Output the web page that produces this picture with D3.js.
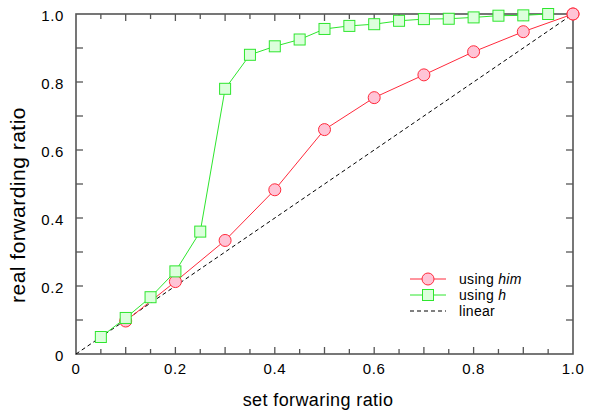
<!DOCTYPE html>
<html>
<head>
<meta charset="utf-8">
<script src="https://cdn.jsdelivr.net/npm/d3@7"></script>
<style>
  body { margin: 0; background: #fff; }
  text { font-family: "Liberation Sans", Arial, sans-serif; fill: #000; }
</style>
</head>
<body>
<div id="chart"></div>
<script>
// values
var him_x = [0.1, 0.2, 0.3, 0.4, 0.5, 0.6, 0.7, 0.8, 0.9, 1.0];
var him_y = [0.097, 0.213, 0.334, 0.483, 0.66, 0.754, 0.821, 0.889, 0.948, 1.0];
var h_x = [0.05, 0.1, 0.15, 0.2, 0.25, 0.3, 0.35, 0.4, 0.45, 0.5, 0.55, 0.6, 0.65, 0.7, 0.75, 0.8, 0.85, 0.9, 0.95];
var h_y = [0.05, 0.106, 0.167, 0.243, 0.36, 0.78, 0.88, 0.905, 0.925, 0.956, 0.965, 0.97, 0.98, 0.985, 0.986, 0.99, 0.995, 0.996, 1.0];
var linear_x = [0, 1];
var linear_y = [0, 1];
var x_labels = [0, 0.2, 0.4, 0.6, 0.8, 1.0];
var y_labels = [0, 0.2, 0.4, 0.6, 0.8, 1.0];

var width = 596, height = 412;
var margin = { top: 14, right: 23, bottom: 58, left: 76 };
var plot_w = width - margin.left - margin.right,
    plot_h = height - margin.top - margin.bottom;

var svg = d3.select("#chart").append("svg")
    .attr("width", width)
    .attr("height", height);

var g = svg.append("g").attr("transform", "translate(" + margin.left + "," + margin.top + ")");

var x = d3.scaleLinear().domain([0, 1]).range([0, plot_w]);
var y = d3.scaleLinear().domain([0, 1]).range([plot_h, 0]);

var frame_color = "#555";

// ticks pointing inward, on all four sides
var x_minor = d3.range(1, 20).map(function (i) { return i * 0.05; });
var y_minor = d3.range(1, 10).map(function (i) { return i * 0.1; });

function tickLen(v) {
    return Math.abs(Math.round(v * 10) - v * 10) < 1e-6 ? 7 : 5;
}

var ticks = g.append("g").attr("stroke", frame_color).attr("stroke-width", 1.3);
x_minor.forEach(function (v) {
    ticks.append("line").attr("x1", x(v)).attr("x2", x(v)).attr("y1", plot_h).attr("y2", plot_h - tickLen(v));
    ticks.append("line").attr("x1", x(v)).attr("x2", x(v)).attr("y1", 0).attr("y2", tickLen(v));
});
y_minor.forEach(function (v) {
    ticks.append("line").attr("x1", 0).attr("x2", 7).attr("y1", y(v)).attr("y2", y(v));
    ticks.append("line").attr("x1", plot_w).attr("x2", plot_w - 7).attr("y1", y(v)).attr("y2", y(v));
});

g.append("rect")
    .attr("x", 0).attr("y", 0)
    .attr("width", plot_w).attr("height", plot_h)
    .attr("fill", "none")
    .attr("stroke", frame_color)
    .attr("stroke-width", 1.6);

// tick labels
g.selectAll(".xlab").data(x_labels).enter().append("text")
    .attr("x", function (d) { return x(d); })
    .attr("y", plot_h + 20)
    .attr("text-anchor", "middle")
    .attr("font-size", 15)
    .attr("letter-spacing", 0.6)
    .text(function (d) { return d === 0 ? "0" : d.toFixed(1); });

g.selectAll(".ylab").data(y_labels).enter().append("text")
    .attr("x", -12)
    .attr("y", function (d) { return y(d) + 7; })
    .attr("text-anchor", "end")
    .attr("font-size", 15)
    .attr("letter-spacing", 0.6)
    .text(function (d) { return d === 0 ? "0" : d.toFixed(1); });

// axis titles
svg.append("text")
    .attr("x", 318)
    .attr("y", 406)
    .attr("text-anchor", "middle")
    .attr("font-size", 18)
    .attr("letter-spacing", 0.4)
    .text("set forwaring ratio");

svg.append("text")
    .attr("transform", "translate(25,205) rotate(-90)")
    .attr("text-anchor", "middle")
    .attr("font-size", 21)
    .attr("letter-spacing", 0.5)
    .text("real forwarding ratio");

var line = d3.line().x(function (d) { return x(d[0]); }).y(function (d) { return y(d[1]); });

var linear_data = d3.zip(linear_x, linear_y);
var him_data = d3.zip(him_x, him_y);
var h_data = d3.zip(h_x, h_y);

var red = "#ff2a3c", red_fill = "#ffc4d6";
var green = "#2ee62e", green_fill = "#dcffdc";

g.append("path").datum(linear_data)
    .attr("d", line)
    .attr("fill", "none")
    .attr("stroke", "#000")
    .attr("stroke-width", 1)
    .attr("stroke-dasharray", "4,3");

g.append("path").datum(him_data)
    .attr("d", line)
    .attr("fill", "none")
    .attr("stroke", red)
    .attr("stroke-width", 1);

g.selectAll(".him").data(him_data).enter().append("circle")
    .attr("cx", function (d) { return x(d[0]); })
    .attr("cy", function (d) { return y(d[1]); })
    .attr("r", 6)
    .attr("fill", red_fill)
    .attr("stroke", red)
    .attr("stroke-width", 1);

g.append("path").datum(h_data)
    .attr("d", line)
    .attr("fill", "none")
    .attr("stroke", green)
    .attr("stroke-width", 1);

g.selectAll(".h").data(h_data).enter().append("rect")
    .attr("x", function (d) { return x(d[0]) - 5.5; })
    .attr("y", function (d) { return y(d[1]) - 5.5; })
    .attr("width", 11)
    .attr("height", 11)
    .attr("fill", green_fill)
    .attr("stroke", green)
    .attr("stroke-width", 1);

// redraw top-right circle above squares
g.append("circle")
    .attr("cx", x(him_x[him_x.length - 1]))
    .attr("cy", y(him_y[him_y.length - 1]))
    .attr("r", 6)
    .attr("fill", red_fill)
    .attr("stroke", red);

// legend
var legend = svg.append("g").attr("transform", "translate(410,279)");
var items = [
    { label: "using ", em: "him", color: red, mark: "circle" },
    { label: "using ", em: "h", color: green, mark: "square" },
    { label: "linear", em: "", color: "#000", mark: "dash" }
];
items.forEach(function (it, i) {
    var row = legend.append("g").attr("transform", "translate(0," + (i * 16) + ")");
    row.append("line")
        .attr("x1", 0).attr("x2", 36)
        .attr("y1", 0).attr("y2", 0)
        .attr("stroke", it.color)
        .attr("stroke-width", 1)
        .attr("stroke-dasharray", it.mark === "dash" ? "4,3" : null);
    if (it.mark === "circle") {
        row.append("circle").attr("cx", 18).attr("cy", 0).attr("r", 6)
            .attr("fill", red_fill).attr("stroke", red);
    } else if (it.mark === "square") {
        row.append("rect").attr("x", 12.5).attr("y", -5.5).attr("width", 11).attr("height", 11)
            .attr("fill", green_fill).attr("stroke", green);
    }
    var t = row.append("text")
        .attr("x", 49)
        .attr("y", 5)
        .attr("font-size", 14)
        .attr("letter-spacing", 0.3);
    t.append("tspan").text(it.label);
    if (it.em) t.append("tspan").attr("font-style", "italic").text(it.em);
});
</script>
</body>
</html>
